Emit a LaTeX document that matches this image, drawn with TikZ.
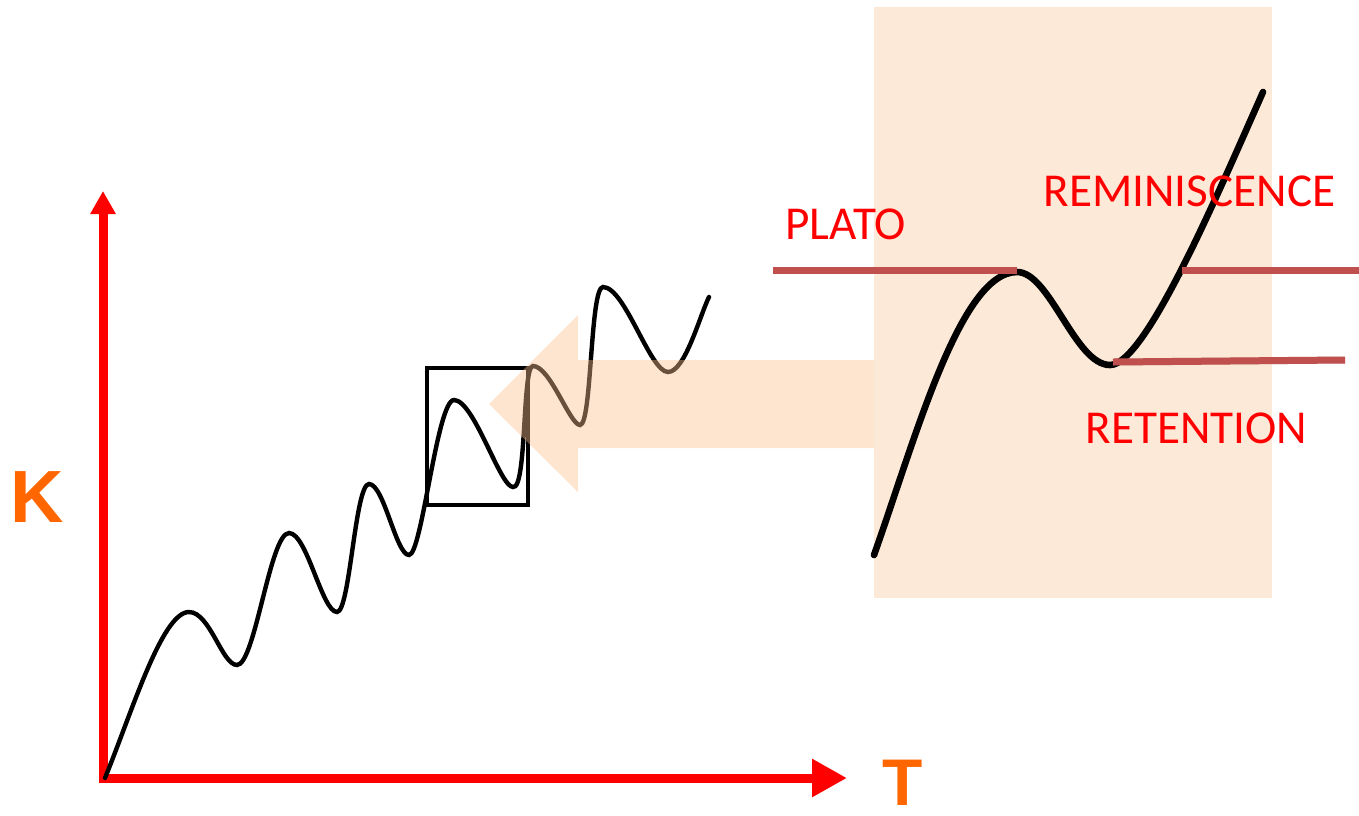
\documentclass[tikz,border=0pt]{standalone}
\usepackage{fontspec}
\usepackage{xcolor}
\usepackage{tikz}
\usetikzlibrary{arrows.meta}
\newfontfamily\tagfont{Carlito}
\newfontfamily\axisfont{Liberation Sans}
\definecolor{axisred}{RGB}{255,0,0}
\definecolor{axisorange}{RGB}{255,102,0}
\definecolor{levelred}{RGB}{192,80,77}
\definecolor{zoompeach}{RGB}{253,233,216}
\definecolor{arrowpeach}{RGB}{250,192,143}

\begin{document}
\begin{tikzpicture}[x=0.5pt,y=-0.5pt,
    axis/.style={draw=axisred,line width=4.5pt},
    wave/.style={draw=black,line width=2.2pt,line cap=round},
    bigwave/.style={draw=black,line width=3.3pt,line cap=round},
    level/.style={draw=levelred,line width=3.5pt},
    levelshade/.style={draw=black!60,line width=3.5pt,opacity=.25,shift={(1.5,3.5)}},
    tag/.style={font=\tagfont\fontsize{23.6}{23.6}\selectfont,text=axisred,inner sep=0pt,anchor=base west},
    axislabel/.style={font=\axisfont\bfseries,text=axisorange,inner sep=0pt,anchor=base west}]
  \useasboundingbox (0,0) rectangle (1359,815);

  % axes
  \coordinate (origin) at (103,778);
  \coordinate (ktip)   at (103,191);
  \coordinate (ttip)   at (847,778);
  \draw[axis,-{Triangle[length=11.5pt,width=12pt]}] ([yshift=-2.25pt]origin) -- (ktip);
  \draw[axis,-{Triangle[length=17.5pt,width=18pt]}] (origin) -- (ttip);
  \node[axislabel,font=\axisfont\bfseries\fontsize{37}{37}\selectfont] (k) at (10,522) {K};
  \node[axislabel,font=\axisfont\bfseries\fontsize{33}{33}\selectfont] (t) at (882,805) {T};

  % learning curve
  \draw[wave] (105,778) .. controls (132,712) and (162,612) .. (189,612)
     .. controls (210,612) and (222,665) .. (237,665)
     .. controls (255,665) and (270,533) .. (289,533)
     .. controls (307,533) and (322,612) .. (337,612)
     .. controls (350,612) and (355,484) .. (369,484)
     .. controls (384,484) and (396,555) .. (409,555)
     .. controls (422,555) and (437,400) .. (454,400)
     .. controls (474,400) and (500,487) .. (513,487)
     .. controls (527,490) and (522,366) .. (533,366)
     .. controls (550,366) and (570,425) .. (580,425)
     .. controls (592,425) and (590,287) .. (603,287)
     .. controls (625,287) and (650,372) .. (668,372)
     .. controls (685,372) and (700,315) .. (709,297);
  \draw[line width=2pt] (427,368) rectangle (528,505);

  % zoom
  \fill[arrowpeach,fill opacity=.42] (489,404) -- (578,315) -- (578,360) -- (874,360)
     -- (874,448) -- (578,448) -- (578,492) -- cycle;
  \fill[zoompeach] (874,7) rectangle (1272,598);
  \draw[bigwave] (874,555) .. controls (915,440) and (960,272) .. (1017,272)
     .. controls (1050,272) and (1075,365) .. (1110,365)
     .. controls (1145,365) and (1215,200) .. (1263,92);

  \coordinate (platoA) at (773,270);
  \coordinate (platoB) at (1017,270);
  \coordinate (remA)   at (1182,270);
  \coordinate (remB)   at (1359,270);
  \coordinate (retA)   at (1113,362);
  \coordinate (retB)   at (1345,360);
  \draw[levelshade] (platoA) -- (platoB);
  \draw[levelshade] (remA) -- (remB);
  \draw[levelshade] (retA) -- (retB);
  \draw[level] (platoA) -- (platoB);
  \draw[level] (remA) -- (remB);
  \draw[level] (retA) -- (retB);

  \node[tag] (plato) at (785,239)  {PLATO};
  \node[tag] (remin) at (1043,206) {REMINISCENCE};
  \node[tag] (reten) at (1085,443) {RETENTION};
\end{tikzpicture}
\end{document}
